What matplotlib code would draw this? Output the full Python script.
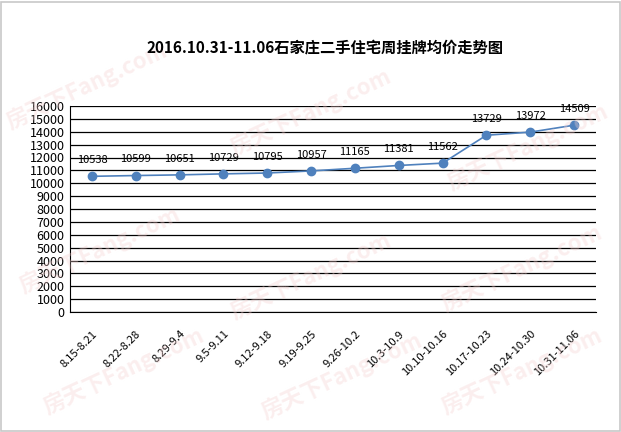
import matplotlib.pyplot as plt
from matplotlib.patches import Rectangle

plt.rcParams['font.family'] = ['Noto Sans CJK SC', 'DejaVu Sans']

TITLE = '2016.10.31-11.06石家庄二手住宅周挂牌均价走势图'
weeks = ['8.15-8.21', '8.22-8.28', '8.29-9.4', '9.5-9.11', '9.12-9.18', '9.19-9.25',
         '9.26-10.2', '10.3-10.9', '10.10-10.16', '10.17-10.23', '10.24-10.30', '10.31-11.06']
prices = [10538, 10599, 10651, 10729, 10795, 10957, 11165, 11381, 11562, 13729, 13972, 14509]
y_ticks = list(range(0, 16001, 1000))

LINE_COLOR = '#4f81bd'
W, H = 621, 432

fig = plt.figure(figsize=(W / 100, H / 100), dpi=100)
fig.patches.append(Rectangle((0.002, 0.002), 0.996, 0.994, transform=fig.transFigure,
                             fill=False, edgecolor='#c8c8c8', linewidth=1.2))

# faint watermark
for (wx, wy) in [(0.14, 0.80), (0.5, 0.74), (0.85, 0.66), (0.16, 0.42),
                 (0.5, 0.36), (0.84, 0.38), (0.2, 0.14), (0.55, 0.13), (0.84, 0.14)]:
    fig.text(wx, wy, '房天下Fang.com', rotation=25, fontsize=16, color='#f4d0d0',
             alpha=0.35, ha='center', va='center', fontweight='bold', zorder=0)

ax = fig.add_axes([70 / W, 1 - 312 / H, (596 - 70) / W, (312 - 106) / H])
ax.set_facecolor('none')
x = range(len(weeks))
ax.plot(x, prices, color=LINE_COLOR, linewidth=1.2, marker='o', markersize=6,
        markerfacecolor=LINE_COLOR, markeredgecolor=LINE_COLOR, zorder=3)
for i, v in enumerate(prices):
    ax.annotate(str(v), (i, v), xytext=(0, 8), textcoords='offset points',
                ha='center', va='bottom', fontsize=8, color='#000000')

ax.set_xlim(-0.5, len(weeks) - 0.5)
ax.set_ylim(0, 16000)
ax.set_yticks(y_ticks)
ax.set_yticklabels([str(t) for t in y_ticks], fontsize=9)
ax.yaxis.grid(True, color='black', linewidth=0.9)
ax.set_axisbelow(True)
ax.set_xticks(list(x))
ax.set_xticklabels(weeks, rotation=45, ha='right', va='top', rotation_mode='anchor', fontsize=8)
ax.tick_params(axis='y', length=0, pad=4)
ax.tick_params(axis='x', length=0, pad=12)
for s in ['top', 'right']:
    ax.spines[s].set_visible(False)
ax.spines['left'].set_color('black')
ax.spines['bottom'].set_color('black')

fig.text(325 / W, 1 - 47 / H, TITLE, ha='center', va='center', fontsize=11, fontweight='bold')

fig.savefig('out.png', dpi=100)
